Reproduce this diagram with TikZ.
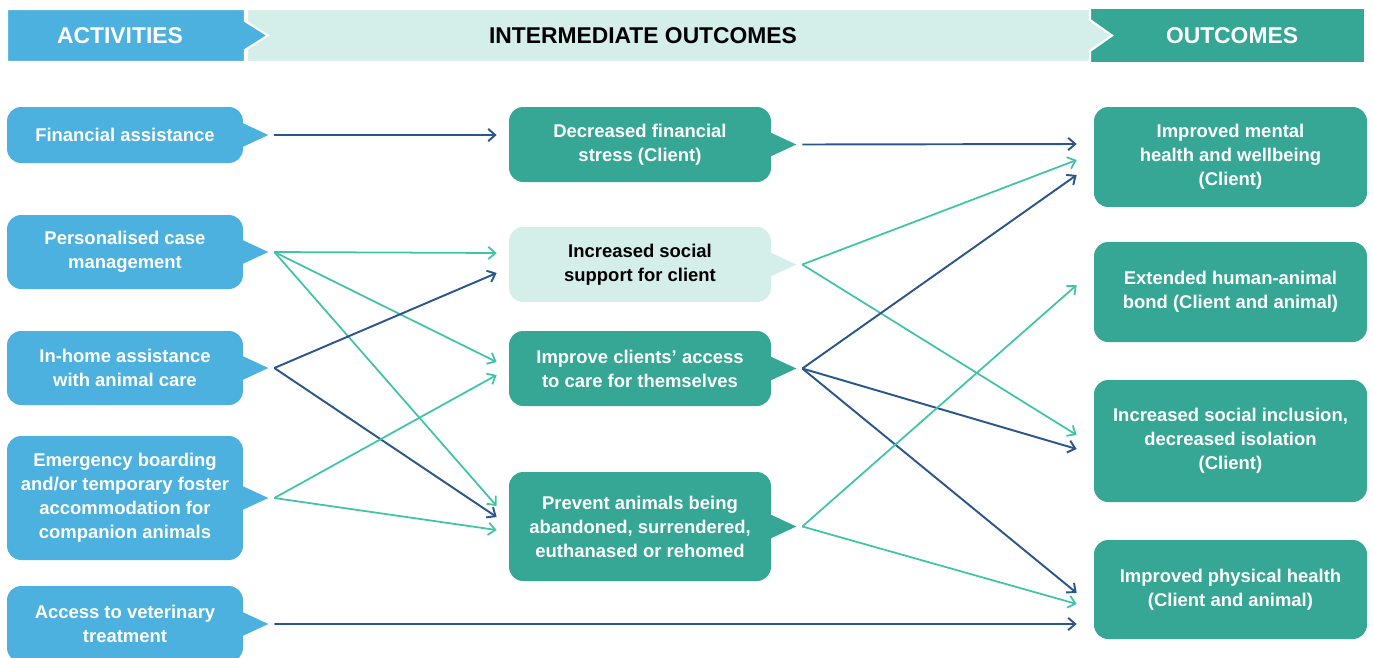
\documentclass[tikz,border=0pt]{standalone}
\usepackage{fontspec}
\setmainfont{Liberation Sans}
\usetikzlibrary{arrows.meta,calc}
\definecolor{actblue}{RGB}{76,177,223}
\definecolor{outgreen}{RGB}{53,167,148}
\definecolor{midlight}{RGB}{212,238,234}
\definecolor{linkdark}{RGB}{43,86,140}
\definecolor{linkteal}{RGB}{64,196,166}
\tikzset{
  box/.style={rounded corners=8pt, inner sep=0pt, align=center,
    font=\bfseries\fontsize{10.5}{13.6}\selectfont},
  act/.style={box, fill=actblue, text=white, minimum width=4.72cm},
  mid/.style={box, fill=outgreen, text=white, minimum width=5.24cm},
  res/.style={box, fill=outgreen, text=white, minimum width=5.46cm},
  hd/.style={font=\bfseries\fontsize{13}{15}\selectfont, inner sep=0pt},
  dk/.style={draw=linkdark, line width=1.1pt, -{Straight Barb[length=4pt,width=7pt]}},
  tl/.style={draw=linkteal, line width=1pt, -{Straight Barb[length=4pt,width=7pt]}},
}
% speech tail on the right side of a box
\newcommand{\bubtail}[2]{%
  \fill[#2] ($(#1.east)+(-3,-13)$) -- ($(#1.east)+(25,0)$) -- ($(#1.east)+(-3,13)$) -- cycle;
  \coordinate (#1-o) at ($(#1.east)+(31,0)$);}
\begin{document}
\begin{tikzpicture}[x=0.02cm, y=-0.02cm]
  \useasboundingbox (0,0) rectangle (1373,657);
  % header band
  \fill[outgreen] (1090,9) rectangle (1364,62);
  \path[fill=midlight, draw=white, line width=1.2pt] (247,9) -- (1090,9) -- (1090,20) -- (1112,35.5) -- (1090,51) -- (1090,62) -- (247,62) -- cycle;
  \path[fill=actblue, draw=white, line width=1.2pt] (7,9) -- (245,9) -- (245,21) -- (268,35.5) -- (245,50) -- (245,62) -- (7,62) -- cycle;
  \node[hd, text=white] (hact) at (120,35.5) {ACTIVITIES};
  \node[hd, text=black] (hmid) at (643,35.5) {INTERMEDIATE OUTCOMES};
  \node[hd, text=white] (hres) at (1232,35.5) {OUTCOMES};
  % activities
  \node[act, minimum height=1.12cm] (fin) at (125,135) {Financial assistance};
  \node[act, minimum height=1.48cm] (pcm) at (125,252) {Personalised case\\management};
  \node[act, minimum height=1.48cm] (home) at (125,368) {In-home assistance\\with animal care};
  \node[act, minimum height=2.48cm] (emb) at (125,498) {Emergency boarding\\and/or temporary foster\\accommodation for\\companion animals};
  \node[act, minimum height=1.52cm] (vet) at (125,624) {Access to veterinary\\treatment};
  \bubtail{fin}{actblue}
  \bubtail{pcm}{actblue}
  \bubtail{home}{actblue}
  \bubtail{emb}{actblue}
  \bubtail{vet}{actblue}
  % intermediate outcomes
  \node[mid, minimum height=1.5cm] (dfs) at (640,144.5) {Decreased financial\\stress (Client)};
  \node[mid, minimum height=1.5cm, fill=midlight, text=black] (soc) at (640,264.5) {Increased social\\support for client};
  \node[mid, minimum height=1.5cm] (care) at (640,368.5) {Improve clients’ access\\to care for themselves};
  \node[mid, minimum height=2.18cm] (prev) at (640,526.5) {Prevent animals being\\abandoned, surrendered,\\euthanased or rehomed};
  \bubtail{dfs}{outgreen}
  \bubtail{soc}{midlight}
  \bubtail{care}{outgreen}
  \bubtail{prev}{outgreen}
  % outcomes
  \node[res, minimum height=2cm] (ment) at (1230.5,157) {Improved mental\\health and wellbeing\\(Client)};
  \node[res, minimum height=2cm] (bond) at (1230.5,292) {Extended human-animal\\bond (Client and animal)};
  \node[res, minimum height=2.44cm] (incl) at (1230.5,441) {Increased social inclusion,\\decreased isolation\\(Client)};
  \node[res, minimum height=1.98cm] (phys) at (1230.5,589.5) {Improved physical health\\(Client and animal)};
  % links
  \draw[dk] (fin-o) -- ($(dfs.west)+(-12,-9.5)$);
  \draw[tl] (pcm-o) -- ($(soc.west)+(-12,-11.5)$);
  \draw[tl] (pcm-o) -- ($(care.west)+(-12,-6.5)$);
  \draw[tl] (pcm-o) -- ($(prev.west)+(-12,-20.5)$);
  \draw[dk] (home-o) -- ($(soc.west)+(-12,8.5)$);
  \draw[dk] (home-o) -- ($(prev.west)+(-12,-9.5)$);
  \draw[tl] (emb-o) -- ($(care.west)+(-12,6.5)$);
  \draw[tl] (emb-o) -- ($(prev.west)+(-12,3.5)$);
  \draw[dk] (vet-o) -- ($(phys.west)+(-17,34.5)$);
  \draw[dk] (dfs-o) -- ($(ment.west)+(-17,-13)$);
  \draw[tl] (soc-o) -- ($(ment.west)+(-17,3)$);
  \draw[tl] (soc-o) -- ($(incl.west)+(-17,-6)$);
  \draw[dk] (care-o) -- ($(ment.west)+(-17,18)$);
  \draw[dk] (care-o) -- ($(incl.west)+(-17,8)$);
  \draw[dk] (care-o) -- ($(phys.west)+(-17,3.5)$);
  \draw[tl] (prev-o) -- ($(bond.west)+(-17,-7)$);
  \draw[tl] (prev-o) -- ($(phys.west)+(-17,14.5)$);
\end{tikzpicture}
\end{document}
